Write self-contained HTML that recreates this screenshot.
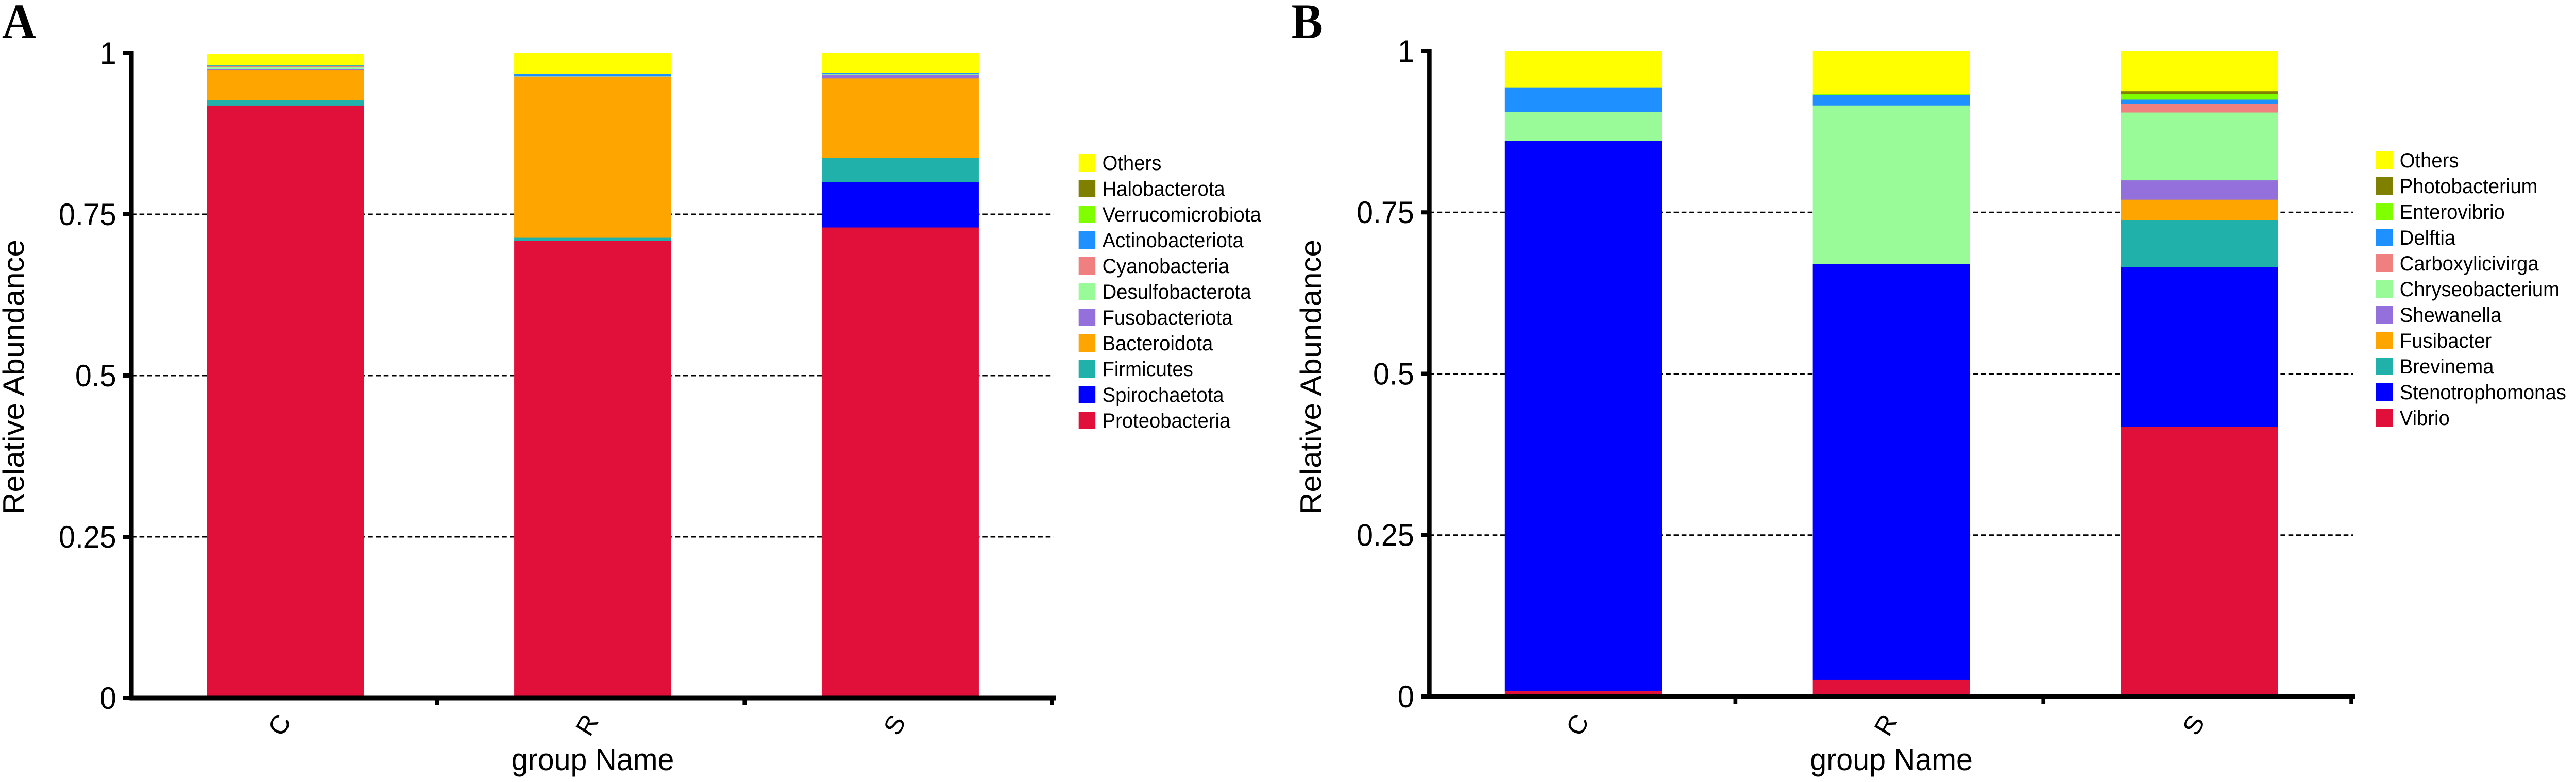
<!DOCTYPE html>
<html><head><meta charset="utf-8"><style>
html,body{margin:0;padding:0;background:#fff;overflow:hidden;width:100%;height:100%;}
svg{display:block;font-family:"Liberation Sans",Arial,sans-serif;width:100vw;height:100vh;}
</style></head><body>
<svg id="chart" width="5230" height="1518" viewBox="0 0 5230 1518" preserveAspectRatio="none" xmlns="http://www.w3.org/2000/svg">
<rect x="0" y="0" width="5230" height="1518" fill="#fff"/>
</svg>
<script>
// ---- data ----
const groups = ["C","R","S"];
const yTicks = [0,0.25,0.5,0.75,1];
const yTickLabels = ["0","0.25","0.5","0.75","1"];
// Panel A (phylum), bottom to top
const seriesA = ["Proteobacteria","Spirochaetota","Firmicutes","Bacteroidota","Fusobacteriota","Desulfobacterota","Cyanobacteria","Actinobacteriota","Verrucomicrobiota","Halobacterota","Others"];
const aProteobacteria = [0.919,0.709,0.730];
const aSpirochaetota = [0,0,0.070];
const aFirmicutes = [0.008,0.005,0.038];
const aBacteroidota = [0.047,0.249,0.123];
const aFusobacteriota = [0.002,0.001,0.006];
const aDesulfobacterota = [0.002,0.001,0.001];
const aCyanobacteria = [0.002,0,0];
const aActinobacteriota = [0.001,0.003,0.002];
const aVerrucomicrobiota = [0.0005,0,0];
const aHalobacterota = [0.0005,0,0];
const aOthers = [0.017,0.032,0.030];
// Panel B (genus), bottom to top
const seriesB = ["Vibrio","Stenotrophomonas","Brevinema","Fusibacter","Shewanella","Chryseobacterium","Carboxylicivirga","Delftia","Enterovibrio","Photobacterium","Others"];
const bVibrio = [0.0085,0.026,0.418];
const bStenotrophomonas = [0.8525,0.644,0.248];
const bBrevinema = [0,0,0.072];
const bFusibacter = [0,0,0.032];
const bShewanella = [0,0,0.030];
const bChryseobacterium = [0.045,0.246,0.105];
const bCarboxylicivirga = [0,0,0.014];
const bDelftia = [0.038,0.016,0.006];
const bEnterovibrio = [0,0.002,0.009];
const bPhotobacterium = [0,0,0.004];
const bOthers = [0.056,0.066,0.062];

const colors = ["#E0103A","#0000FF","#20B2AA","#FFA500","#9370DB","#98FB98","#F08080","#1E90FF","#7FFF00","#808000","#FFFF00"];

const svg = document.getElementById('chart');
const NS = "http://www.w3.org/2000/svg";
function mk(tag, attrs, parent){
  const e = document.createElementNS(NS, tag);
  for (const k in attrs) e.setAttribute(k, attrs[k]);
  (parent||svg).appendChild(e);
  return e;
}

function panel(cfg){
  const g = mk('g', {});
  
  
  const x0 = cfg.x0, x1 = cfg.x1, y0 = cfg.y0, y1 = cfg.y1;
  const band = (x1 - x0) / groups.length;
  const yS = v => y0 - v * (y0 - y1);
  const xC = i => x0 + band * (i + 0.5);
  const bw = 319;

  const L = mk('text', {x: cfg.lx, y: 74, 'font-family': '"Liberation Serif",serif', 'font-weight': 'bold', 'font-size': 96, fill: '#000'}, g);
  L.textContent = cfg.letter;
  
  

  yTicks.forEach((t) => {
    if (t === 0 || t === 1) return;
    const gl = mk('line', {x1: x0, x2: x1, y1: yS(t), y2: yS(t), stroke: '#000', 'stroke-width': 3, 'stroke-dasharray': '10 6'}, g);
    
    
  });

  groups.forEach((grp, i) => {
    let cum = 0;
    cfg.values.forEach((arr, s) => {
      const v = arr[i];
      if (v > 0) {
        const top = yS(cum + v), bot = yS(cum);
        const r = mk('rect', {x: xC(i) - bw / 2, y: top, width: bw, height: bot - top + 0.5, fill: colors[s]}, g);
        
        
      }
      cum += v;
    });
  });

  const ya = mk('line', {x1: x0, x2: x0, y1: y1 - 4, y2: y0 + 4, stroke: '#000', 'stroke-width': 9}, g);
  
  
  const xa = mk('line', {x1: x0 - 4, x2: x1 + 4, y1: y0, y2: y0, stroke: '#000', 'stroke-width': 9}, g);
  
  

  yTicks.forEach((t, k) => {
    const tk = mk('line', {x1: x0 - 17, x2: x0, y1: yS(t), y2: yS(t), stroke: '#000', 'stroke-width': 8}, g);
    
    
    const tl = mk('text', {x: x0 - 31, y: yS(t) + 21, 'text-anchor': 'end', 'font-size': 60, fill: '#000'}, g);
    tl.textContent = yTickLabels[k];
    
    
  });
  for (let i = 1; i <= groups.length; i++) {
    const tk = mk('line', {x1: x0 + band * i - 4, x2: x0 + band * i - 4, y1: y0, y2: y0 + 14, stroke: '#000', 'stroke-width': 8}, g);
    
    
  }
  groups.forEach((grp, i) => {
    const cx = xC(i) - 12, cy = 1407;
    const t = mk('text', {x: cx, y: cy + 18, 'text-anchor': 'middle', 'font-size': 52, fill: '#000', transform: 'rotate(-60 ' + cx + ' ' + cy + ')'}, g);
    t.textContent = grp;
    
    
  });

  const xt = mk('text', {x: (x0 + x1) / 2, y: 1495, 'text-anchor': 'middle', 'font-size': 60, fill: '#000'}, g);
  xt.textContent = 'group Name';
  
  
  const ytx = cfg.tx, yty = 732;
  const yt = mk('text', {x: ytx, y: yty, 'text-anchor': 'middle', 'font-size': 60, fill: '#000', transform: 'rotate(-90 ' + ytx + ' ' + yty + ')'}, g);
  yt.textContent = 'Relative Abundance';
  
  

  const n = cfg.series.length;
  for (let k = 0; k < n; k++) {
    const s = n - 1 - k;
    const yy = cfg.ly + k * 50;
    const lg = mk('g', {}, g);
    
    
    mk('rect', {x: cfg.lsx, y: yy, width: 34, height: 34, fill: colors[s]}, lg);
    const lt = mk('text', {x: cfg.lsx + 48, y: yy + 31, 'font-size': 40, fill: '#000'}, lg);
    lt.textContent = cfg.series[s];
  }
}

panel({name: 'panel-a-phylum', letter: 'A', lx: 4, x0: 267, x1: 2140, y0: 1355, y1: 103, tx: 48,
  series: seriesA, lsx: 2190, ly: 299,
  values: [aProteobacteria, aSpirochaetota, aFirmicutes, aBacteroidota, aFusobacteriota, aDesulfobacterota, aCyanobacteria, aActinobacteriota, aVerrucomicrobiota, aHalobacterota, aOthers]});
panel({name: 'panel-b-genus', letter: 'B', lx: 2622, x0: 2902, x1: 4778, y0: 1352, y1: 99, tx: 2682,
  series: seriesB, lsx: 4824, ly: 294,
  values: [bVibrio, bStenotrophomonas, bBrevinema, bFusibacter, bShewanella, bChryseobacterium, bCarboxylicivirga, bDelftia, bEnterovibrio, bPhotobacterium, bOthers]});
</script>
</body></html>
